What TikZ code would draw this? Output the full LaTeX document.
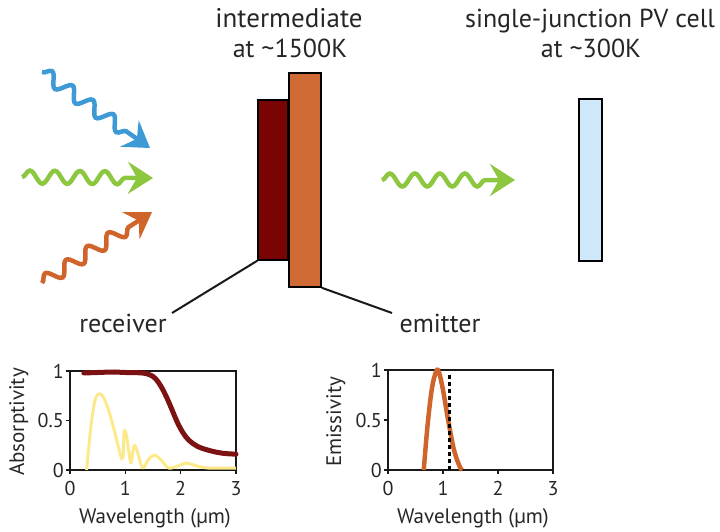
\documentclass[tikz,border=0pt]{standalone}
\usepackage{fontspec}
\setmainfont{PT Sans}
\usetikzlibrary{arrows.meta,decorations.pathmorphing}
\definecolor{wblue}{HTML}{3D9AD6}
\definecolor{wgreen}{HTML}{8DC63F}
\definecolor{worange}{HTML}{D0652C}
\definecolor{recvred}{HTML}{7A0303}
\definecolor{emitorange}{HTML}{D06A35}
\definecolor{pvblue}{HTML}{CDE9FA}
\definecolor{yellowc}{HTML}{FCE98C}
\definecolor{curvered}{HTML}{7D1212}
\begin{document}
\begin{tikzpicture}[x=1pt,y=-1pt,
  wave/.style={line width=4.5pt, decorate,
    decoration={snake, amplitude=6.5pt, segment length=25pt, post length=27pt},
    -{Stealth[length=25pt,width=32pt,inset=9pt]}},
  slab/.style={draw=black, line width=1.5pt, inner sep=0pt},
  biglbl/.style={font=\fontsize{26}{30}\selectfont, inner sep=0pt, text=black!85},
  axlbl/.style={font=\fontsize{21}{25}\selectfont, inner sep=0pt, text=black!85},
  ticklbl/.style={font=\fontsize{20}{24}\selectfont, inner sep=0pt, text=black!85},
  frame/.style={draw=black!90, line width=1.6pt},
  leader/.style={draw=black!90, line width=2pt}
]
\useasboundingbox (0,0) rectangle (720,531);

% titles
\node[biglbl, anchor=base] (t1a) at (289,27) {\fontsize{27}{30}\selectfont intermediate};
\node[biglbl, anchor=base] (t1b) at (290,57) {at \textasciitilde1500K};
\node[biglbl, anchor=base] (t2a) at (590,27) {single-junction PV cell};
\node[biglbl, anchor=base] (t2b) at (591,57) {at \textasciitilde300K};

% slabs
\node[slab, fill=recvred, minimum width=30pt, minimum height=160pt] (recv) at (273,180) {};
\node[slab, fill=emitorange, minimum width=32pt, minimum height=214pt] (emit) at (305,180) {};
\node[slab, fill=pvblue, minimum width=23pt, minimum height=162pt] (pv) at (590.5,180) {};

% labels and leaders
\node[biglbl, anchor=base] (rlbl) at (123,332) {receiver};
\node[biglbl, anchor=base] (elbl) at (440,332) {emitter};
\coordinate (rend) at (172,313);
\coordinate (eend) at (392,313);
\draw[leader] (recv.south west) -- (rend);
\draw[leader] (emit.south east) -- (eend);

% waves
\coordinate (b0) at (42,72);   \coordinate (b1) at (150,148);
\coordinate (g0) at (22,177);  \coordinate (g1) at (153,178);
\coordinate (o0) at (42,283);  \coordinate (o1) at (152,212);
\coordinate (m0) at (382,180); \coordinate (m1) at (515,180);
\draw[wave, wblue] (b0) -- (b1);
\draw[wave, wgreen] (g0) -- (g1);
\draw[wave, worange] (o0) -- (o1);
\draw[wave, wgreen] (m0) -- (m1);

% left plot
\begin{scope}[shift={(70,470)}, x=55.33pt, y=99pt]
  \draw[frame] (0,0) rectangle (3,1);
  \foreach \v in {0,0.5,1} \draw[frame] (0,\v) -- ++(-4pt,0);
  \foreach \x in {0,1,2,3} \draw[frame] (\x,0) -- ++(0,-4pt);
  \foreach \x/\n in {0/a,1/b,2/c,3/d} \node[ticklbl, anchor=base] (Lx\n) at ([yshift=-25pt]\x,0) {\x};
  \foreach \v/\n in {0/a,0.5/b,1/c} \node[ticklbl, anchor=east] (Ly\n) at ([xshift=-6pt]0,\v) {\v};
  \draw[yellowc, line width=3pt, line join=round] plot[smooth, tension=0.5] coordinates {
    (0.3,0) (0.38,0.45) (0.45,0.7) (0.52,0.77) (0.6,0.74) (0.7,0.6) (0.8,0.4) (0.88,0.22) (0.94,0.1)};
  \draw[yellowc, line width=3pt, line join=round] plot[smooth, tension=0.5] coordinates {
    (0.96,0.12) (0.98,0.39) (1.02,0.35) (1.06,0.2) (1.1,0.07) (1.14,0.2) (1.17,0.25) (1.22,0.18)
    (1.28,0.06) (1.33,0.02) (1.42,0.11) (1.53,0.15) (1.65,0.1) (1.78,0.02) (1.95,0.04) (2.1,0.07)
    (2.3,0.04) (2.5,0.02) (3,0.02)};
  \draw[curvered, line width=5pt, line cap=round] plot[smooth, tension=0.6] coordinates {
    (0.25,0.98) (0.5,0.985) (0.8,0.99) (1.0,0.985) (1.3,0.98) (1.45,0.96) (1.55,0.92) (1.65,0.84)
    (1.75,0.73) (1.85,0.6) (1.95,0.47) (2.05,0.37) (2.15,0.3) (2.3,0.24) (2.5,0.2) (2.75,0.17) (3.0,0.16)};
\end{scope}
\node[axlbl, rotate=90, anchor=base] (absl) at (24,422) {Absorptivity};
\node[axlbl, anchor=base] (wl1) at (155,523) {Wavelength (µm)};

% right plot
\begin{scope}[shift={(388,470)}, x=55pt, y=100pt]
  \draw[frame] (0,0) rectangle (3,1);
  \foreach \v in {0,0.5,1} \draw[frame] (0,\v) -- ++(-4pt,0);
  \foreach \x in {0,1,2,3} \draw[frame] (\x,0) -- ++(0,-4pt);
  \foreach \x/\n in {0/a,1/b,2/c,3/d} \node[ticklbl, anchor=base] (Rx\n) at ([yshift=-25pt]\x,0) {\x};
  \foreach \v/\n in {0/a,0.5/b,1/c} \node[ticklbl, anchor=east] (Ry\n) at ([xshift=-6pt]0,\v) {\v};
  \draw[worange, line width=4.5pt] plot[smooth, tension=0.6] coordinates {
    (0.65,0) (0.72,0.45) (0.8,0.82) (0.88,0.99) (0.93,0.97) (1.0,0.8) (1.1,0.48) (1.2,0.2) (1.3,0.04) (1.35,0)};
  \draw[black, line width=2.8pt, dash pattern=on 4pt off 3pt] (1.12,0) -- (1.12,0.96);
\end{scope}
\node[axlbl, rotate=90, anchor=base] (emsl) at (341,422) {Emissivity};
\node[axlbl, anchor=base] (wl2) at (473,523) {Wavelength (µm)};
\end{tikzpicture}
\end{document}
